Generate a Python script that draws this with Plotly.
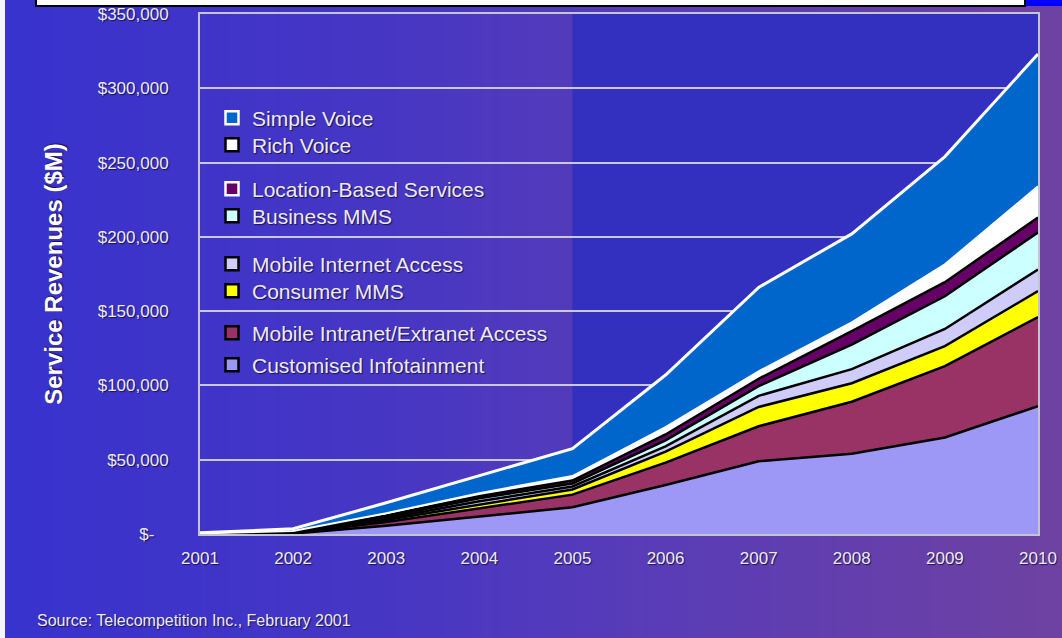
import base64
import struct
import zlib
import plotly.graph_objects as go

# ---------------- data ($M) ----------------
years = [2001, 2002, 2003, 2004, 2005, 2006, 2007, 2008, 2009, 2010]
customised_infotainment = [100, 300, 5500, 11500, 18000, 33000, 49000, 54000, 65000, 86000]
mobile_intranet_extranet = [50, 300, 2500, 5500, 8500, 15000, 23500, 35000, 48000, 60000]
consumer_mms = [50, 200, 1500, 3000, 3500, 7500, 13000, 12500, 13500, 17500]
mobile_internet_access = [50, 200, 1000, 2000, 2000, 3500, 7500, 9500, 11500, 14500]
business_mms = [50, 200, 1000, 2000, 2000, 4000, 6500, 16500, 22000, 25000]
location_based_services = [50, 300, 1000, 1500, 2000, 4000, 5000, 9000, 9500, 10000]
rich_voice = [50, 500, 1500, 2000, 3000, 5000, 5000, 6000, 12000, 21000]
simple_voice = [400, 1500, 7000, 12000, 18500, 35000, 56500, 59500, 72500, 89000]

y_tick_values = [0, 50000, 100000, 150000, 200000, 250000, 300000, 350000]
y_tick_labels = ["$-\u00a0\u00a0\u00a0", "$50,000", "$100,000", "$150,000",
                 "$200,000", "$250,000", "$300,000", "$350,000"]

# ---------------- layout geometry ----------------
W, H = 1062, 638
ML, MR, MT, MB = 200, 24, 14, 104
PW, PH = W - ML - MR, H - MT - MB


def px_x(p):
    return (p - ML) / PW


def px_y(p):
    return 1 - (p - MT) / PH


def gradient_png(stops, w=256, h=1):
    rows = b""
    for _ in range(h):
        row = bytearray(b"\x00")
        for i in range(w):
            t = i / (w - 1)
            for k in range(len(stops) - 1):
                t0, c0 = stops[k]
                t1, c1 = stops[k + 1]
                if t0 <= t <= t1:
                    f = (t - t0) / (t1 - t0) if t1 > t0 else 0
                    row += bytes(int(round(c0[j] + (c1[j] - c0[j]) * f)) for j in range(3))
                    break
        rows += bytes(row)

    def chunk(tag, data):
        c = tag + data
        return struct.pack(">I", len(data)) + c + struct.pack(">I", zlib.crc32(c) & 0xFFFFFFFF)

    png = b"\x89PNG\r\n\x1a\n"
    png += chunk(b"IHDR", struct.pack(">IIBBBBB", w, h, 8, 2, 0, 0, 0))
    png += chunk(b"IDAT", zlib.compress(rows, 9))
    png += chunk(b"IEND", b"")
    return "data:image/png;base64," + base64.b64encode(png).decode()


bg = gradient_png([(0.0, (56, 50, 206)), (0.35, (70, 54, 196)), (0.6, (88, 60, 184)),
                   (0.85, (102, 63, 170)), (1.0, (110, 66, 162))])

series = [
    ("Customised Infotainment", customised_infotainment, "#9d97f6", "#000000", 2.5),
    ("Mobile Intranet/Extranet Access", mobile_intranet_extranet, "#993366", "#000000", 2.5),
    ("Consumer MMS", consumer_mms, "#ffff00", "#000000", 2.5),
    ("Mobile Internet Access", mobile_internet_access, "#d0ccfa", "#000000", 2.5),
    ("Business MMS", business_mms, "#ccffff", "#000000", 2.5),
    ("Location-Based Services", location_based_services, "#660066", "#000000", 2.5),
    ("Rich Voice", rich_voice, "#ffffff", "#ffffff", 2),
    ("Simple Voice", simple_voice, "#0066cc", "#ffffff", 3),
]

fig = go.Figure()
for name, vals, fillc, linec, lw in series:
    fig.add_trace(go.Scatter(
        x=years, y=vals, name=name, mode="lines", stackgroup="one",
        fillcolor=fillc, line=dict(color=linec, width=lw),
        showlegend=False, hoverinfo="x+y+name",
    ))

shadow = "1px 1px 1px rgba(20,10,60,0.85)"
txt = "#ecebf5"

# legend entries (square swatches), one small legend per entry so the
# uneven spacing of the reference can be kept
legend_items = [
    ("Simple Voice", "#0066cc", "#ffffff", 118),
    ("Rich Voice", "#ffffff", "#000000", 145),
    ("Location-Based Services", "#660066", "#ffffff", 189),
    ("Business MMS", "#ccffff", "#000000", 216),
    ("Mobile Internet Access", "#d0ccfa", "#000000", 264),
    ("Consumer MMS", "#ffff00", "#000000", 291),
    ("Mobile Intranet/Extranet Access", "#993366", "#000000", 333),
    ("Customised Infotainment", "#9d97f6", "#000000", 365),
]
legend_layouts = {}
for i, (name, fillc, border, ypx) in enumerate(legend_items):
    key = "legend" if i == 0 else f"legend{i + 1}"
    fig.add_trace(go.Scatter(
        x=[None], y=[None], name=name, mode="markers", legend=key,
        marker=dict(symbol="square", size=13, color=fillc, line=dict(color=border, width=2.5)),
        showlegend=True, hoverinfo="skip",
    ))
    legend_layouts[key] = dict(
        x=px_x(212), y=px_y(ypx), xanchor="left", yanchor="middle",
        bgcolor="rgba(0,0,0,0)", borderwidth=0,
        font=dict(size=21, color=txt, shadow=shadow),
        itemclick=False, itemdoubleclick=False,
    )

fig.update_layout(
    width=W, height=H,
    margin=dict(l=ML, r=MR, t=MT, b=MB, autoexpand=False),
    paper_bgcolor="#3a32cc",
    plot_bgcolor="rgba(0,0,0,0)",
    font=dict(family="Liberation Sans, Arial, sans-serif", color=txt),
    showlegend=True,
    images=[dict(
        source=bg, xref="paper", yref="paper",
        x=px_x(0), y=px_y(0), sizex=W / PW, sizey=H / PH,
        xanchor="left", yanchor="top", sizing="stretch", layer="below",
    )],
    shapes=[
        # bluer panel on the right part of the plot area
        dict(type="rect", xref="x", yref="paper", x0=years[4], x1=years[-1], y0=0, y1=1,
             fillcolor="#3330c0", line=dict(width=0), layer="below"),
        # white strip on the far left
        dict(type="rect", xref="paper", yref="paper", x0=px_x(0), x1=px_x(5), y0=px_y(H), y1=px_y(0),
             fillcolor="#f4f4fa", line=dict(width=0), layer="below"),
        # cut-off white title box at the top
        dict(type="rect", xref="paper", yref="paper", x0=px_x(36), x1=px_x(1025), y0=px_y(6), y1=px_y(-10),
             fillcolor="#ffffff", line=dict(color="#000000", width=2), layer="above"),
        # bright blue corner at top right
        dict(type="rect", xref="paper", yref="paper", x0=px_x(1026), x1=px_x(W), y0=px_y(6), y1=px_y(0),
             fillcolor="#0000ff", line=dict(width=0), layer="above"),
    ],
    annotations=[dict(
        text="Source: Telecompetition Inc., February 2001",
        xref="paper", yref="paper", x=px_x(35), y=px_y(620),
        xanchor="left", yanchor="middle", showarrow=False,
        font=dict(size=16, color=txt, shadow=shadow),
    )],
    **legend_layouts,
)

fig.update_xaxes(
    range=[years[0], years[-1]], tickmode="array", tickvals=years,
    ticktext=[str(y) for y in years],
    tickfont=dict(size=17, color=txt, shadow=shadow),
    showgrid=False, zeroline=False, automargin=False,
    showline=True, linecolor="#c4c4d2", linewidth=2, mirror=True,
    ticks="", ticklabelstandoff=8,
)
fig.update_yaxes(
    range=[0, 350000], tickmode="array", tickvals=y_tick_values, ticktext=y_tick_labels,
    tickfont=dict(size=17, color=txt, shadow=shadow),
    showgrid=True, gridcolor="#c8c8d6", gridwidth=1.5, zeroline=False, automargin=False,
    showline=True, linecolor="#c4c4d2", linewidth=2, mirror=True,
    ticks="", ticklabelstandoff=26,
    title=dict(text="<b>Service Revenues ($M)</b>", standoff=28,
               font=dict(size=24, color="#ffffff", shadow=shadow)),
)

fig.write_html("out.html", config={"displayModeBar": False},
               post_script="document.body.style.margin='0px';")
